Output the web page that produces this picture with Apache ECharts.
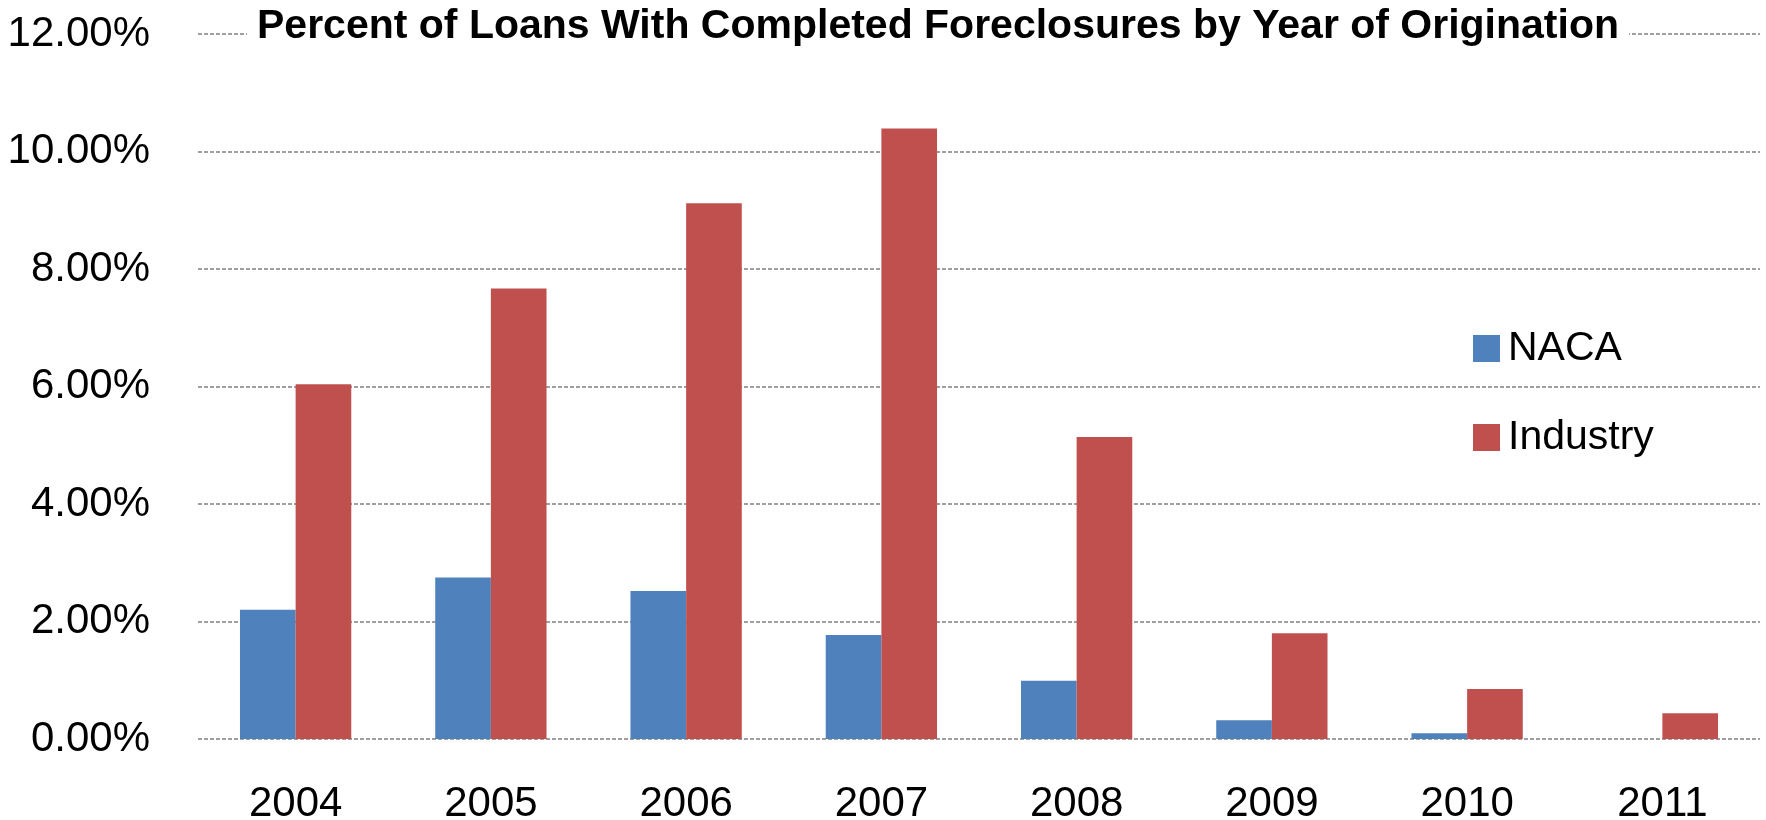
<!DOCTYPE html>
<html>
<head>
<meta charset="utf-8">
<script src="https://cdn.jsdelivr.net/npm/echarts@6/dist/echarts.min.js"></script>
<style>html,body{margin:0;padding:0;background:#fff}#c{width:1766px;height:820px}</style>
</head>
<body>
<div id="c"></div>
<script>
const categories = ['2004','2005','2006','2007','2008','2009','2010','2011'];
const nacaValues = [2.20, 2.75, 2.52, 1.77, 0.99, 0.32, 0.10, 0];
const industryValues = [6.04, 7.67, 9.12, 10.39, 5.14, 1.80, 0.85, 0.44];
const seriesNames = ['NACA', 'Industry'];
const titleText = 'Percent of Loans With Completed Foreclosures by Year of Origination';

const chart = echarts.init(document.getElementById('c'), null, {renderer: 'canvas'});
const font = '"Liberation Sans", Arial, sans-serif';
chart.setOption({
  animation: false,
  backgroundColor: '#ffffff',
  title: {
    text: titleText,
    left: 247,
    top: 4,
    padding: [2, 10],
    backgroundColor: '#ffffff',
    textStyle: {fontFamily: font, fontWeight: 'bold', fontSize: 41, color: '#000'}
  },
  legend: {
    orient: 'vertical',
    left: 1468,
    top: 323,
    itemWidth: 27,
    itemHeight: 27,
    itemGap: 48,
    icon: 'rect',
    data: seriesNames,
    textStyle: {fontFamily: font, fontSize: 41, color: '#000', padding: [0, 0, 0, 3]}
  },
  grid: {left: 198, right: 6, top: 34, bottom: 81, containLabel: false, outerBoundsMode: 'none'},
  xAxis: {
    type: 'category',
    data: categories,
    axisLine: {show: false},
    axisTick: {show: false},
    axisLabel: {fontFamily: font, fontSize: 42, color: '#000', margin: 44}
  },
  yAxis: {
    type: 'value',
    min: 0,
    max: 12,
    interval: 2,
    axisLine: {show: false},
    axisTick: {show: false},
    axisLabel: {fontFamily: font, fontSize: 42, color: '#000', margin: 48,
      formatter: v => v.toFixed(2) + '%'},
    splitLine: {lineStyle: {color: '#808080', type: [4, 2], width: 1.5}}
  },
  series: [
    {name: seriesNames[0], type: 'bar', data: nacaValues, barGap: '0%', barCategoryGap: '43%',
      itemStyle: {color: '#4F81BD'}},
    {name: seriesNames[1], type: 'bar', data: industryValues, barGap: '0%', barCategoryGap: '43%',
      itemStyle: {color: '#C0504D'}}
  ]
});
</script>
</body>
</html>
